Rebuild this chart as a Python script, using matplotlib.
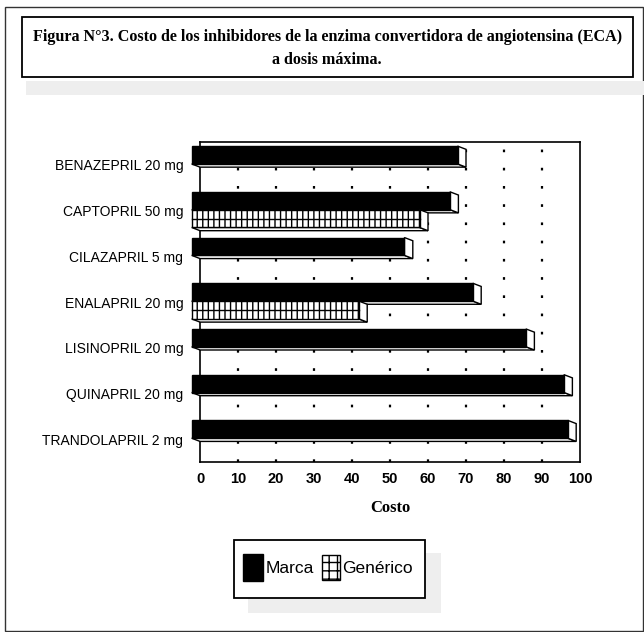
"""Costo de los inhibidores de la ECA a dosis máxima (barras 3D, marca vs genérico)."""

import matplotlib.pyplot as plt
from matplotlib.patches import Polygon, Rectangle
import numpy as np

# ── data ────────────────────────────────────────────────────────────────────
drugs = ["BENAZEPRIL 20 mg", "CAPTOPRIL 50 mg", "CILAZAPRIL 5 mg", "ENALAPRIL 20 mg",
         "LISINOPRIL 20 mg", "QUINAPRIL 20 mg", "TRANDOLAPRIL 2 mg"]
marca = [70, 68, 56, 74, 88, 98, 99]
generico = [None, 60, None, 44, None, None, None]
xticks = [0, 10, 20, 30, 40, 50, 60, 70, 80, 90, 100]

SANS = ["Liberation Sans Narrow", "Liberation Sans", "DejaVu Sans"]
SERIF = ["Liberation Serif", "DejaVu Serif"]

DX = 2.2     # depth, data units along x
DY = 0.07    # depth, category units along y
BH = 0.39    # bar thickness
SHADOW = "#eeeeee"


def bar3d(ax, yt, value, front="black", hatch=None):
    yb = yt + BH
    v = value
    fr = Polygon([(-DX, yt), (v - DX, yt), (v - DX, yb), (-DX, yb)], closed=True,
                 facecolor=front, edgecolor="black", linewidth=1.0, hatch=hatch,
                 clip_on=False, zorder=3)
    side = Polygon([(v - DX, yt), (v, yt + DY), (v, yb + DY), (v - DX, yb)], closed=True,
                   facecolor="white", edgecolor="black", linewidth=1.0, clip_on=False, zorder=3)
    bottom = Polygon([(-DX, yb), (v - DX, yb), (v, yb + DY), (0, yb + DY)], closed=True,
                     facecolor="white", edgecolor="black", linewidth=1.0, clip_on=False, zorder=2.9)
    ax.add_patch(bottom)
    ax.add_patch(side)
    ax.add_patch(fr)
    if hatch:
        ax.plot([-DX, v - DX], [yt + BH / 2, yt + BH / 2], color="black", lw=1.0,
                clip_on=False, zorder=3.5)


plt.rcParams["hatch.linewidth"] = 1.0

fig = plt.figure(figsize=(6.44, 6.32), dpi=100)
fig.patch.set_facecolor("white")

# outer frame
fig.patches.append(Rectangle((0.008, 0.002), 0.99, 0.987, transform=fig.transFigure,
                             fill=False, edgecolor="#333333", linewidth=1.0))

# title shadow + box
fig.patches.append(Rectangle((0.040, 0.850), 0.960, 0.022, transform=fig.transFigure,
                             facecolor=SHADOW, edgecolor="none"))
fig.patches.append(Rectangle((0.034, 0.878), 0.949, 0.095, transform=fig.transFigure,
                             facecolor="white", edgecolor="black", linewidth=1.3))
fig.text(0.508, 0.941, "Figura N°3. Costo de los inhibidores de la enzima convertidora de angiotensina (ECA)",
         ha="center", va="center", fontsize=11.6, fontweight="bold", family=SERIF)
fig.text(0.508, 0.905, "a dosis máxima.", ha="center", va="center", fontsize=11.6,
         fontweight="bold", family=SERIF)

ax = fig.add_axes([0.3106, 0.269, 0.59, 0.5063])
n = len(drugs)
ax.set_xlim(0, 100)
ax.set_ylim(n, 0)

for i in range(n):
    top = i + 0.5 - BH - 0.02
    bar3d(ax, top, marca[i], front="black")
    if generico[i] is not None:
        bar3d(ax, top + BH, generico[i], front="white", hatch="|||")

for x in xticks[1:-1]:
    ax.axvline(x, color="black", linestyle=(0, (1.2, 7)), linewidth=1.6, zorder=1)

ax.set_xticks(xticks)
ax.set_xticklabels([str(t) for t in xticks], family=SANS, fontsize=10.5, fontweight="bold")
ax.set_yticks(np.arange(n) + 0.5)
ax.set_yticklabels(drugs, family=SANS, fontsize=10)
ax.tick_params(axis="both", length=0)
ax.tick_params(axis="x", pad=7)
ax.tick_params(axis="y", pad=12)
for s in ax.spines.values():
    s.set_linewidth(1.2)
ax.set_xlabel("Costo", family=SERIF, fontsize=12, fontweight="bold", labelpad=10)

# legend with shadow
fig.patches.append(Rectangle((0.385, 0.030), 0.300, 0.028, transform=fig.transFigure,
                             facecolor=SHADOW, edgecolor="none"))
fig.patches.append(Rectangle((0.660, 0.030), 0.025, 0.095, transform=fig.transFigure,
                             facecolor=SHADOW, edgecolor="none"))
fig.patches.append(Rectangle((0.363, 0.054), 0.297, 0.092, transform=fig.transFigure,
                             facecolor="white", edgecolor="black", linewidth=1.3))
fig.patches.append(Rectangle((0.378, 0.080), 0.030, 0.044, transform=fig.transFigure,
                             facecolor="black", edgecolor="black"))
fig.text(0.412, 0.101, "Marca", ha="left", va="center", fontsize=12.5, family=SANS)
fig.patches.append(Rectangle((0.500, 0.082), 0.028, 0.040, transform=fig.transFigure,
                             facecolor="white", edgecolor="black", hatch="++", linewidth=1.0))
fig.text(0.531, 0.101, "Genérico", ha="left", va="center", fontsize=12.5, family=SANS)

fig.savefig("out.png", dpi=100, facecolor="white")
